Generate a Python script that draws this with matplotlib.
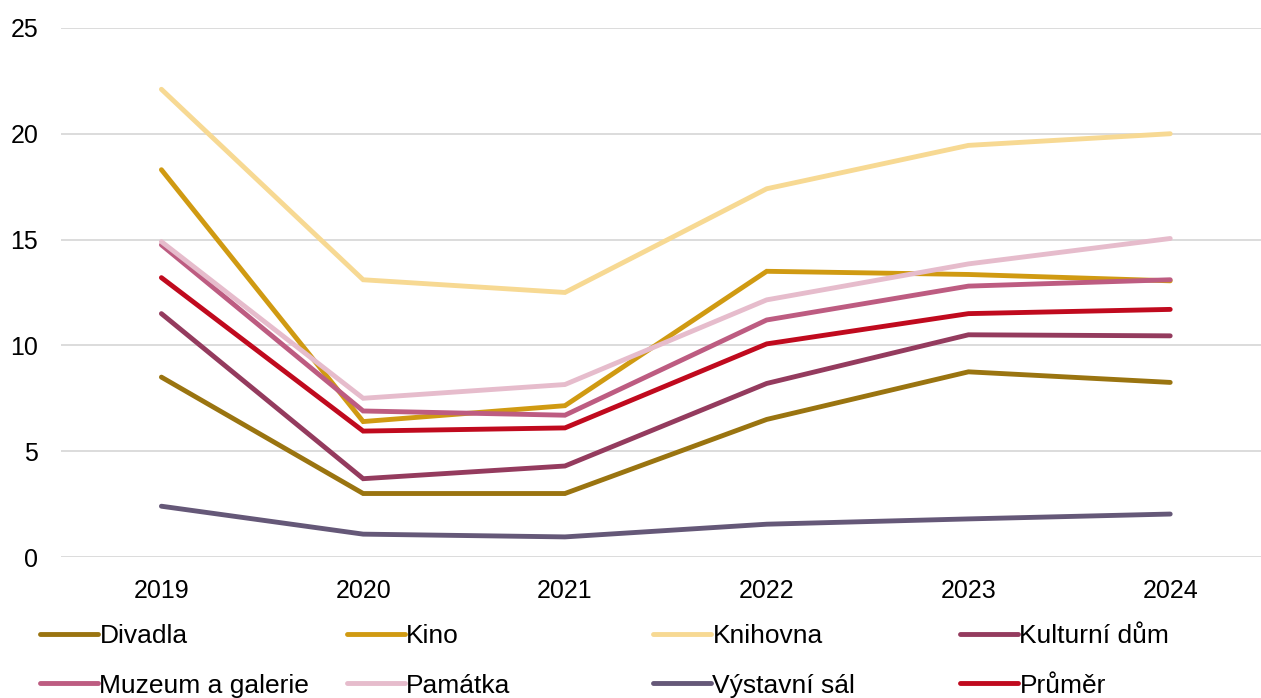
import matplotlib
matplotlib.use("Agg")
import matplotlib.pyplot as plt

plt.rcParams["font.family"] = ["Liberation Sans", "DejaVu Sans"]

years = ["2019", "2020", "2021", "2022", "2023", "2024"]

divadla = [8.5, 3.0, 3.0, 6.5, 8.75, 8.25]
kino = [18.3, 6.4, 7.15, 13.5, 13.35, 13.05]
knihovna = [22.1, 13.1, 12.5, 17.4, 19.45, 20.0]
kulturni_dum = [11.5, 3.7, 4.3, 8.2, 10.5, 10.45]
muzeum = [14.75, 6.9, 6.7, 11.2, 12.8, 13.1]
pamatka = [14.9, 7.5, 8.15, 12.15, 13.85, 15.05]
vystavni_sal = [2.4, 1.08, 0.95, 1.55, 1.8, 2.03]
prumer = [13.2, 5.95, 6.1, 10.07, 11.5, 11.7]

series = [
    ("Divadla", divadla, "#9a7410"),
    ("Kino", kino, "#d09a12"),
    ("Knihovna", knihovna, "#f7d993"),
    ("Kulturní dům", kulturni_dum, "#943b5e"),
    ("Muzeum a galerie", muzeum, "#bd5c81"),
    ("Památka", pamatka, "#e6bccc"),
    ("Výstavní sál", vystavni_sal, "#655878"),
    ("Průměr", prumer, "#c00a1e"),
]

fig = plt.figure(figsize=(12.61, 6.98), dpi=100)
ax = fig.add_axes([0.048, 0.202, 0.96, 0.758])

x = range(len(years))
lines = []
for name, vals, col in series:
    ln, = ax.plot(x, vals, color=col, lw=3.5, label=name,
                  solid_capstyle="round", solid_joinstyle="miter")
    lines.append(ln)

ax.set_xlim(-0.5, 5.5)
ax.set_ylim(0, 25)
ax.set_yticks([0, 5, 10, 15, 20, 25])
ax.set_xticks(list(x))
ax.set_xticklabels(years)
ax.grid(axis="y", color="#d9d9d9", lw=1.3)
ax.set_axisbelow(True)
for s in ax.spines.values():
    s.set_visible(False)
ax.tick_params(length=0, labelsize=18, colors="black")
ax.tick_params(axis="y", pad=16)
ax.tick_params(axis="x", pad=15.5)

# legenda: 4 sloupce po dvou polozkach, radkove poradi jako v originale
col_x = [40, 347, 653, 960]
for i, cx in enumerate(col_x):
    hs = [lines[i], lines[i + 4]]
    lg = fig.legend(hs, [h.get_label() for h in hs], loc="center left",
                    bbox_to_anchor=(cx / 1261, 1 - 661 / 698), frameon=False,
                    fontsize=19, handlelength=2.2, handletextpad=0.05,
                    labelspacing=0.95, borderaxespad=0, borderpad=0)

fig.savefig("out.png", dpi=100)
